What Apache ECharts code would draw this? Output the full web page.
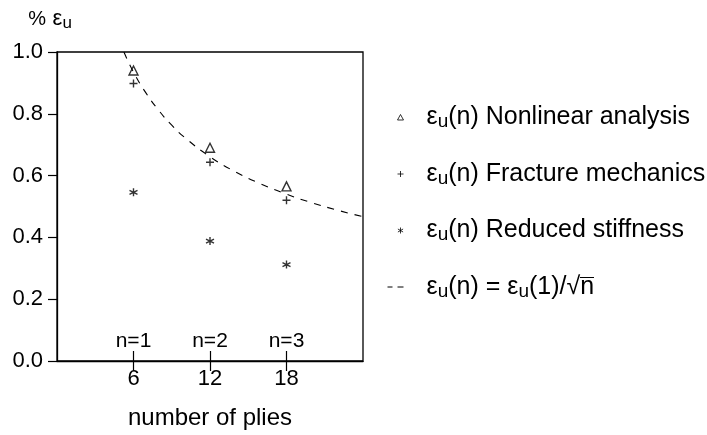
<!DOCTYPE html>
<html>
<head>
<meta charset="utf-8">
<script src="https://cdn.jsdelivr.net/npm/echarts@6/dist/echarts.min.js"></script>
<style>html,body{margin:0;background:#fff}#chart{width:707px;height:435px}</style>
</head>
<body>
<div id="chart"></div>
<script>
// number of plies on the laminate, and n
const plies = [6, 12, 18];
const nLabels = ['n=1', 'n=2', 'n=3'];
// eps_u(n) in %
const nonlinear = [0.94, 0.69, 0.565];
const fracture = [0.898, 0.643, 0.52];
const reduced = [0.546, 0.388, 0.312];
// dashed curve eps_u(1)/sqrt(n)
const curveX = [5.25, 6, 7, 8, 9, 10, 12, 14, 16, 18, 20, 22, 24];
const curveY = [1.0, 0.935, 0.866, 0.81, 0.763, 0.724, 0.661, 0.612, 0.573, 0.54, 0.512, 0.488, 0.467];

const FONT = 'Liberation Sans';
const pairs = (xs, ys) => xs.map((x, i) => [x, ys[i]]);

// marker shapes
const TRI = 'path://M5,0L10,9L0,9Z';
const PLUS = 'path://M0,5L10,5M5,0L5,10';
const STAR = 'path://M5,0L5,10M0.7,2.5L9.3,7.5M0.7,7.5L9.3,2.5';
// legend icons (20x10 box, mark sits at the right)
const L_TRI = 'path://M0,0M20,10M13,7.5L16,2L19,7.5Z';
const L_PLUS = 'path://M0,0M20,10M13,5L19,5M16,2L16,8';
const L_STAR = 'path://M0,0M20,10M16,2L16,8M13.4,3.5L18.6,6.5M13.4,6.5L18.6,3.5';
const L_DASH = 'path://M0,0M20,10M3,5L8,5M13,5L19,5';

// small image used as the bar over n in the square root
const bar = document.createElement('canvas');
bar.width = 20; bar.height = 40;
const bctx = bar.getContext('2d');
bctx.fillStyle = '#000';
bctx.fillRect(0, 0, 20, 2);

const outline = { color: 'rgba(0,0,0,0)', borderColor: '#000', borderWidth: 1.4 };
const legendLabels = {
  nl: '{e|ε}{s|u}{t|(n) Nonlinear analysis}',
  fm: '{e|ε}{s|u}{t|(n) Fracture mechanics}',
  rs: '{e|ε}{s|u}{t|(n) Reduced stiffness}',
  fit: '{e|ε}{s|u}{t|(n) = }{e|ε}{s|u}{t|(1)/√}{r|n}'
};
const rich = {
  e: { fontFamily: FONT, fontSize: 25, lineHeight: 28, color: '#000' },
  t: { fontFamily: FONT, fontSize: 25, lineHeight: 28, color: '#000' },
  s: { fontFamily: FONT, fontSize: 19, lineHeight: 16, verticalAlign: 'bottom', color: '#000' },
  r: { fontFamily: FONT, fontSize: 25, lineHeight: 20, height: 20, color: '#000', backgroundColor: { image: bar } }
};

const chart = echarts.init(document.getElementById('chart'));
chart.setOption({
  animation: false,
  grid: { left: 57, right: 344, top: 52, bottom: 73, show: true, borderColor: '#000', borderWidth: 1.3 },
  xAxis: [
    {
      type: 'value', min: 0, max: 24, interval: 6,
      name: 'number of plies', nameLocation: 'middle', nameGap: 45,
      nameTextStyle: { fontFamily: FONT, fontSize: 24, color: '#000' },
      splitLine: { show: false },
      axisLine: { lineStyle: { color: '#000', width: 1.3 } },
      axisTick: { customValues: plies, length: 10, lineStyle: { color: '#000', width: 1.2 } },
      axisLabel: { customValues: plies, margin: 7, fontFamily: FONT, fontSize: 22, color: '#000' }
    },
    {
      type: 'value', min: 0, max: 24, interval: 6, position: 'bottom',
      splitLine: { show: false },
      axisLine: { show: false },
      axisTick: { customValues: plies, inside: true, length: 10, lineStyle: { color: '#000', width: 1.2 } },
      axisLabel: {
        customValues: plies, inside: true, margin: 9,
        fontFamily: FONT, fontSize: 21, color: '#000',
        formatter: v => nLabels[plies.indexOf(v)] || ''
      }
    }
  ],
  yAxis: {
    type: 'value', min: 0, max: 1, interval: 0.2,
    name: '{p|%}  {e|ε}{s|u}', nameLocation: 'end', nameGap: 20,
    nameTextStyle: {
      padding: [0, 14, 0, 0],
      rich: {
        p: { fontFamily: FONT, fontSize: 20, lineHeight: 26, color: '#000' },
        e: { fontFamily: FONT, fontSize: 22, lineHeight: 26, color: '#000' },
        s: { fontFamily: FONT, fontSize: 17, lineHeight: 13, verticalAlign: 'bottom', color: '#000' }
      }
    },
    splitLine: { show: false },
    axisLine: { show: true, lineStyle: { color: '#000', width: 1.3 } },
    axisTick: { length: 9, lineStyle: { color: '#000', width: 1.2 } },
    axisLabel: { margin: 14, fontFamily: FONT, fontSize: 22, color: '#000', formatter: v => v.toFixed(1) }
  },
  legend: {
    orient: 'vertical', left: 384, top: 105, padding: 0, itemGap: 30,
    itemWidth: 20, itemHeight: 10, selectedMode: false,
    data: [
      { name: 'nl', icon: L_TRI, itemStyle: { color: 'rgba(0,0,0,0)', borderColor: '#000', borderWidth: 1 } },
      { name: 'fm', icon: L_PLUS, itemStyle: { color: 'rgba(0,0,0,0)', borderColor: '#000', borderWidth: 1 } },
      { name: 'rs', icon: L_STAR, itemStyle: { color: 'rgba(0,0,0,0)', borderColor: '#000', borderWidth: 1 } },
      { name: 'fit', icon: L_DASH, itemStyle: { color: 'rgba(0,0,0,0)', borderColor: '#000', borderWidth: 1 } }
    ],
    formatter: name => legendLabels[name],
    textStyle: { padding: [0, 0, 0, 17], rich: rich }
  },
  series: [
    { name: 'nl', type: 'scatter', data: pairs(plies, nonlinear), symbol: TRI, symbolSize: [9, 9], itemStyle: outline, z: 3 },
    { name: 'fm', type: 'scatter', data: pairs(plies, fracture), symbol: PLUS, symbolSize: 8, itemStyle: outline, z: 3 },
    { name: 'rs', type: 'scatter', data: pairs(plies, reduced), symbol: STAR, symbolSize: 8, itemStyle: outline, z: 3 },
    {
      name: 'fit', type: 'line', data: pairs(curveX, curveY), smooth: true,
      showSymbol: false, symbol: 'none', silent: true,
      lineStyle: { color: '#000', width: 1.1, type: [7, 7] }
    }
  ]
});
</script>
</body>
</html>
